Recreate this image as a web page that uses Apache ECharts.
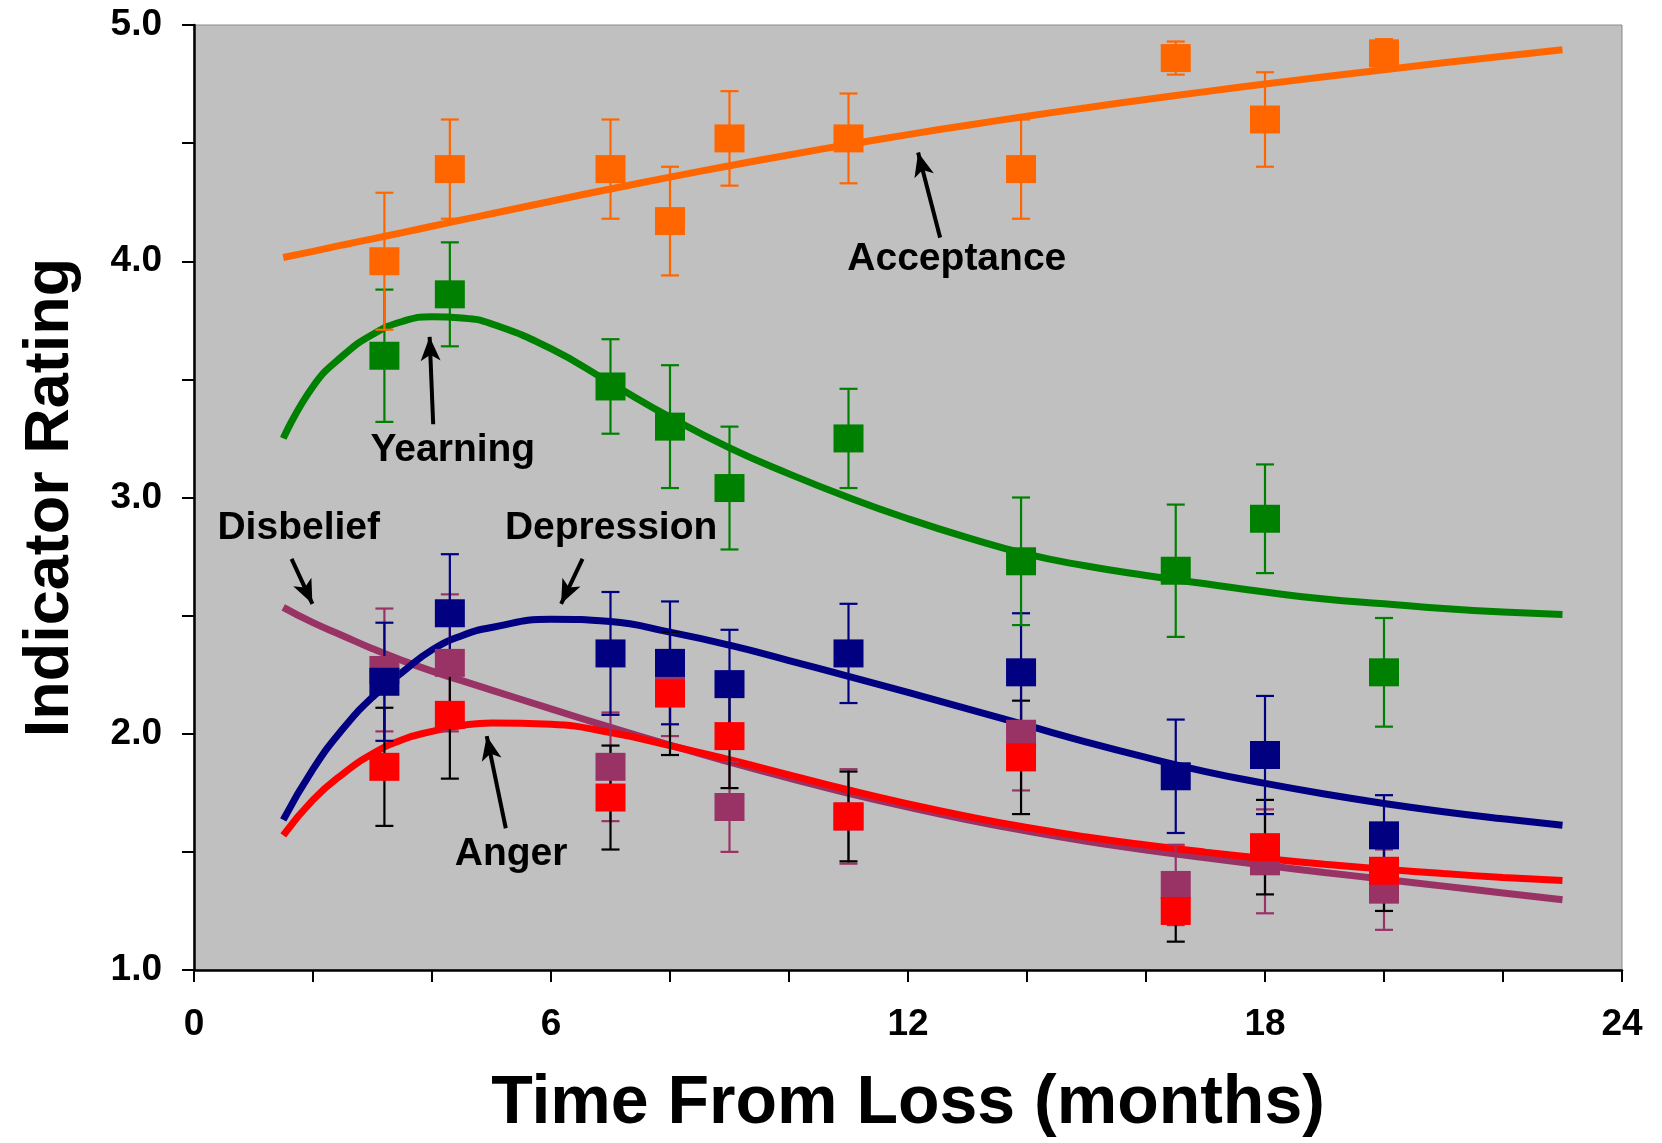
<!DOCTYPE html>
<html>
<head>
<meta charset="utf-8">
<script src="https://cdn.jsdelivr.net/npm/echarts@6/dist/echarts.min.js"></script>
<style>
    html, body { margin: 0; padding: 0; background: #ffffff; }
    #chart { width: 1662px; height: 1143px; }
</style>
</head>
<body>
<div id="chart"></div>
<script type="text/javascript">
    // observed time points (months from loss)
    var months = [3.2, 4.3, 7.0, 8.0, 9.0, 11.0, 13.9, 16.5, 18.0, 20.0];

    var acceptanceMean = [4.00, 4.39, 4.39, 4.17, 4.52, 4.52, 4.39, 4.86, 4.60, 4.88];
    var acceptanceErr  = [0.29, 0.21, 0.21, 0.23, 0.20, 0.19, 0.21, 0.07, 0.20, 0.06];
    var yearningMean   = [3.60, 3.86, 3.47, 3.30, 3.04, 3.25, 2.73, 2.69, 2.91, 2.26];
    var yearningErr    = [0.28, 0.22, 0.20, 0.26, 0.26, 0.21, 0.27, 0.28, 0.23, 0.23];
    var depressionMean = [2.22, 2.51, 2.34, 2.30, 2.21, 2.34, 2.26, 1.82, 1.91, 1.57];
    var depressionErr  = [0.25, 0.25, 0.26, 0.26, 0.23, 0.21, 0.25, 0.24, 0.25, 0.17];
    var angerMean      = [1.86, 2.08, 1.73, 2.17, 1.99, 1.65, 1.90, 1.25, 1.52, 1.42];
    var angerErr       = [0.25, 0.27, 0.22, 0.26, 0.22, 0.19, 0.24, 0.13, 0.20, 0.17];
    var disbeliefMean  = [2.27, 2.30, 1.86, 2.21, 1.69, 1.65, 2.00, 1.36, 1.46, 1.34];
    var disbeliefErr   = [0.26, 0.29, 0.23, 0.22, 0.19, 0.20, 0.24, 0.17, 0.22, 0.17];

    // fitted curves
    var curveMonths   = [1.5, 2, 2.5, 3, 3.5, 4, 4.5, 5, 6, 7, 8, 9, 10, 11, 12, 13, 14, 15, 16, 17, 18, 19, 20, 21, 22, 23];
    var acceptanceFit = [4.016, 4.042, 4.069, 4.095, 4.121, 4.148, 4.175, 4.201, 4.254, 4.306, 4.356, 4.404, 4.450, 4.494, 4.536, 4.576, 4.614, 4.650, 4.685, 4.718, 4.750, 4.781, 4.811, 4.840, 4.868, 4.895];
    var yearningFit   = [3.25, 3.47, 3.60, 3.69, 3.745, 3.765, 3.76, 3.735, 3.63, 3.485, 3.34, 3.21, 3.10, 3.00, 2.91, 2.83, 2.76, 2.71, 2.67, 2.635, 2.60, 2.57, 2.55, 2.53, 2.515, 2.505];
    var depressionFit = [1.635, 1.85, 2.02, 2.155, 2.26, 2.355, 2.415, 2.45, 2.485, 2.475, 2.43, 2.375, 2.31, 2.243, 2.175, 2.105, 2.035, 1.965, 1.90, 1.84, 1.79, 1.745, 1.705, 1.67, 1.64, 1.613];
    var angerFit      = [1.57, 1.72, 1.83, 1.915, 1.975, 2.01, 2.035, 2.046, 2.04, 2.005, 1.95, 1.89, 1.826, 1.762, 1.703, 1.650, 1.603, 1.563, 1.529, 1.499, 1.472, 1.448, 1.427, 1.408, 1.392, 1.379];
    var disbeliefFit  = [2.535, 2.47, 2.415, 2.36, 2.31, 2.265, 2.225, 2.185, 2.105, 2.027, 1.952, 1.88, 1.812, 1.748, 1.69, 1.636, 1.588, 1.545, 1.508, 1.475, 1.443, 1.413, 1.384, 1.355, 1.326, 1.297];

    // text labels and arrows (data coordinates)
    var annoText = ['Acceptance', 'Yearning', 'Disbelief', 'Depression', 'Anger'];
    var annoX = [12.82, 4.35, 1.76, 7.01, 5.33];
    var annoY = [4.01, 3.20, 2.87, 2.87, 1.49];
    var arrowFrom = [[12.54, 4.10], [4.02, 3.31], [1.64, 2.74], [6.53, 2.74], [5.24, 1.60]];
    var arrowTo   = [[12.17, 4.46], [3.96, 3.68], [1.99, 2.55], [6.17, 2.55], [4.92, 1.99]];

    var FONT = '"Liberation Sans", Arial, sans-serif';

    // drawing order: back to front
    var groups = [
        { name: 'Disbelief',  mean: disbeliefMean,  err: disbeliefErr,  fit: disbeliefFit,  color: '#993366', bar: '#993366' },
        { name: 'Anger',      mean: angerMean,      err: angerErr,      fit: angerFit,      color: '#FF0000', bar: '#000000' },
        { name: 'Depression', mean: depressionMean, err: depressionErr, fit: depressionFit, color: '#000080', bar: '#000080' },
        { name: 'Yearning',   mean: yearningMean,   err: yearningErr,   fit: yearningFit,   color: '#008000', bar: '#008000' },
        { name: 'Acceptance', mean: acceptanceMean, err: acceptanceErr, fit: acceptanceFit, color: '#FF6600', bar: '#FF6600' }
    ];

    function errorBar(color) {
        return function (params, api) {
            var x = api.value(0), y = api.value(1), e = api.value(2);
            var hi = api.coord([x, y + e]);
            var lo = api.coord([x, y - e]);
            var w = 9;
            var style = { stroke: color, lineWidth: 2.2 };
            return {
                type: 'group',
                children: [
                    { type: 'line', shape: { x1: hi[0], y1: hi[1], x2: lo[0], y2: lo[1] }, style: style },
                    { type: 'line', shape: { x1: hi[0] - w, y1: hi[1], x2: hi[0] + w, y2: hi[1] }, style: style },
                    { type: 'line', shape: { x1: lo[0] - w, y1: lo[1], x2: lo[0] + w, y2: lo[1] }, style: style }
                ]
            };
        };
    }

    var series = [];
    groups.forEach(function (g) {
        series.push({
            name: g.name + ' fit',
            type: 'line',
            smooth: true,
            showSymbol: false,
            z: 2,
            lineStyle: { color: g.color, width: 7 },
            data: curveMonths.map(function (m, i) { return [m, g.fit[i]]; })
        });
    });
    groups.forEach(function (g) {
        series.push({
            name: g.name + ' err',
            type: 'custom',
            z: 3,
            renderItem: errorBar(g.bar),
            encode: { x: 0, y: 1 },
            data: months.map(function (m, i) { return [m, g.mean[i], g.err[i]]; })
        });
    });
    groups.forEach(function (g) {
        series.push({
            name: g.name,
            type: 'scatter',
            z: 4,
            symbol: 'rect',
            symbolSize: [30, 28],
            itemStyle: { color: g.color, opacity: 1 },
            data: months.map(function (m, i) { return [m, g.mean[i]]; })
        });
    });
    series.push({
        name: 'labels',
        type: 'custom',
        z: 5,
        encode: { x: 0, y: 1 },
        renderItem: function (params, api) {
            var p = api.coord([api.value(0), api.value(1)]);
            return {
                type: 'text',
                x: p[0],
                y: p[1],
                style: {
                    text: annoText[params.dataIndex],
                    fill: '#000000',
                    font: 'bold 39px ' + FONT,
                    align: 'center',
                    verticalAlign: 'middle'
                }
            };
        },
        data: annoX.map(function (x, i) { return [x, annoY[i]]; }),
        markLine: {
            silent: true,
            symbol: ['none', 'arrow'],
            symbolSize: [15, 24],
            label: { show: false },
            lineStyle: { color: '#000000', width: 4, type: 'solid', opacity: 1 },
            data: arrowFrom.map(function (f, i) { return [{ coord: f }, { coord: arrowTo[i] }]; })
        }
    });

    var chart = echarts.init(document.getElementById('chart'));
    chart.setOption({
        animation: false,
        backgroundColor: '#ffffff',
        grid: {
            left: 194, right: 40, top: 25, bottom: 168,
            show: true,
            backgroundColor: '#C0C0C0',
            borderColor: '#8a8a8a',
            borderWidth: 1
        },
        xAxis: {
            type: 'value',
            min: 0, max: 24, interval: 2,
            name: 'Time From Loss (months)',
            nameLocation: 'middle',
            nameGap: 100,
            nameTextStyle: { fontFamily: FONT, fontSize: 68, fontWeight: 'bold', color: '#000' },
            axisLine: { lineStyle: { color: '#000', width: 2.5 } },
            axisTick: { length: 12, lineStyle: { color: '#000', width: 2 } },
            splitLine: { show: false },
            axisLabel: {
                margin: 36,
                fontFamily: FONT, fontSize: 37, fontWeight: 'bold', color: '#000',
                formatter: function (v) { return v % 6 === 0 ? String(v) : ''; }
            }
        },
        yAxis: {
            type: 'value',
            min: 1, max: 5, interval: 0.5,
            name: 'Indicator Rating',
            nameLocation: 'middle',
            nameGap: 112,
            nameTextStyle: { fontFamily: FONT, fontSize: 63, fontWeight: 'bold', color: '#000' },
            axisLine: { show: true, lineStyle: { color: '#000', width: 2.5 } },
            axisTick: { show: true, length: 12, lineStyle: { color: '#000', width: 2 } },
            splitLine: { show: false },
            axisLabel: {
                margin: 32,
                fontFamily: FONT, fontSize: 37, fontWeight: 'bold', color: '#000',
                formatter: function (v) { return v % 1 === 0 ? v.toFixed(1) : ''; }
            }
        },
        series: series
    });
</script>
</body>
</html>
